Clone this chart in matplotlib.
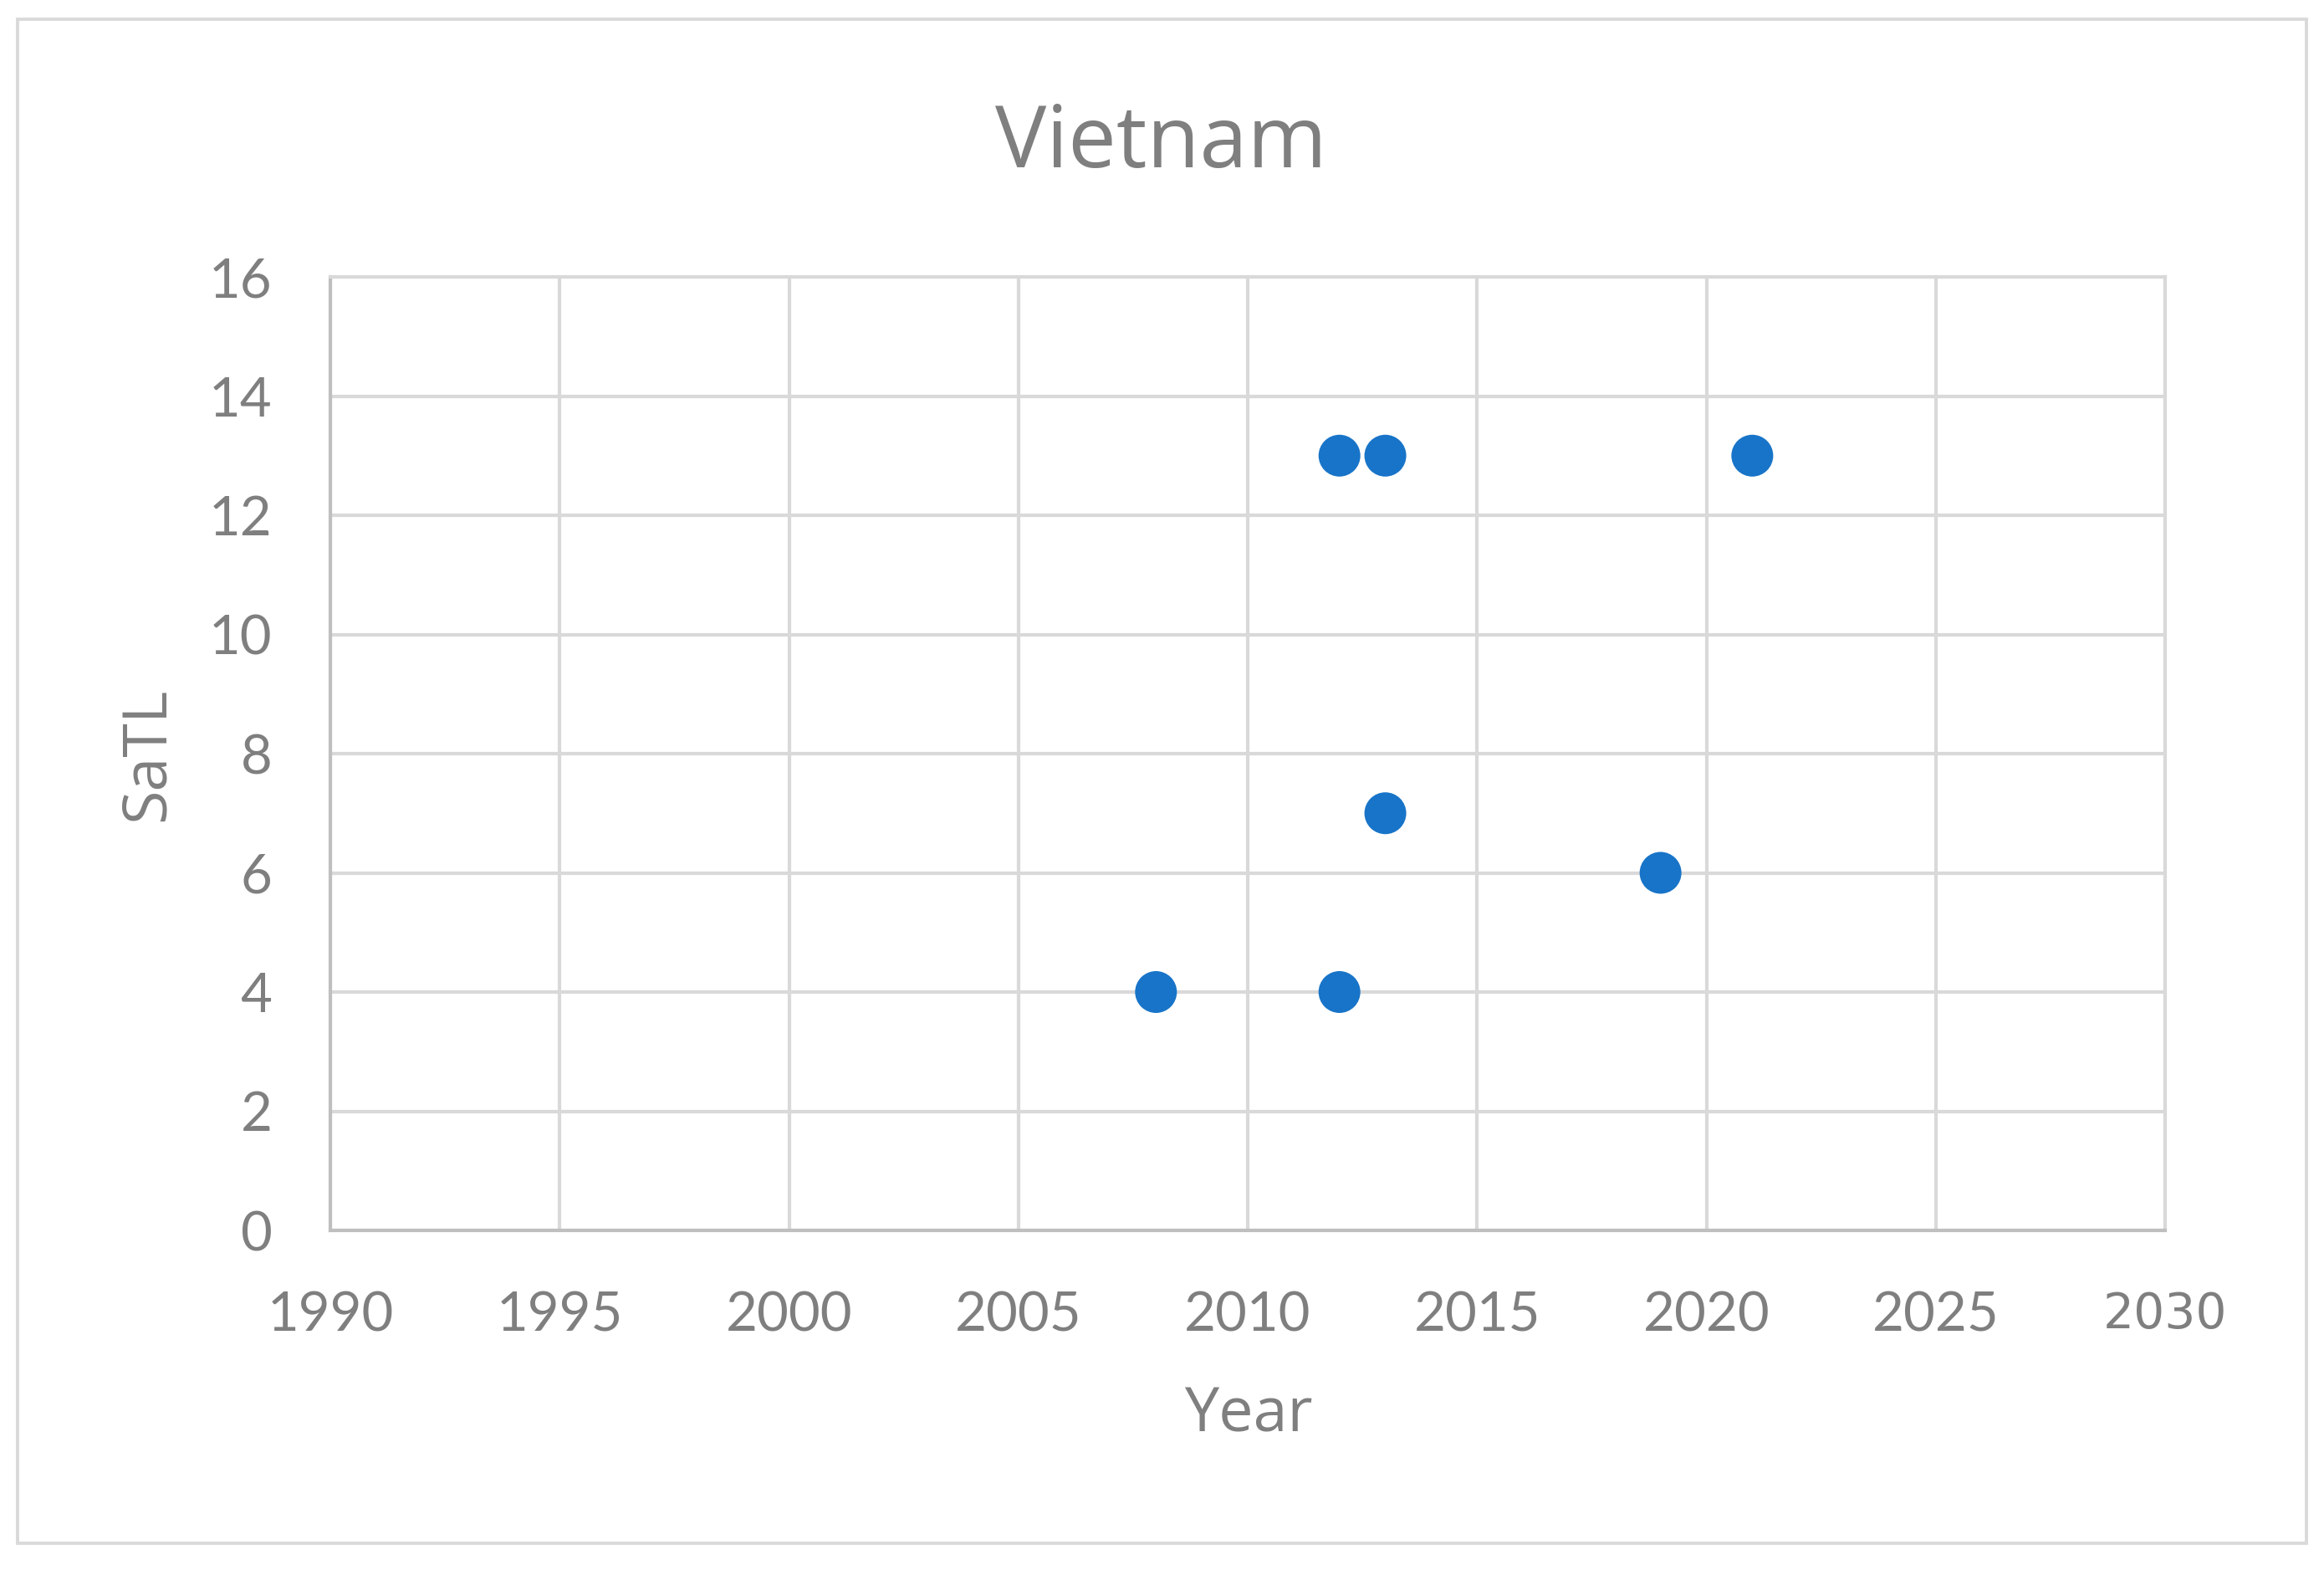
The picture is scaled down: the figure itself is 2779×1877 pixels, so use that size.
import matplotlib
matplotlib.use("Agg")
import matplotlib.pyplot as plt
from matplotlib.patches import Rectangle

# data
years = [2008, 2012, 2012, 2013, 2013, 2019, 2021]
satl = [4, 4, 13, 13, 7, 6, 13]

x_ticks = [1990, 1995, 2000, 2005, 2010, 2015, 2020, 2025, 2030]
y_ticks = [0, 2, 4, 6, 8, 10, 12, 14, 16]

TITLE = "Vietnam"
XLABEL = "Year"
YLABEL = "SaTL"

W, H = 2779, 1877
DPI = 100
TEXT = "#7f7f7f"
GRID = "#d9d9d9"
AXIS = "#bfbfbf"
BLUE = "#1874c8"


def px_box(left, top, right, bottom):
    # pixel box (from top-left) -> figure fraction [l, b, w, h]
    return [left / W, 1 - bottom / H, (right - left) / W, (bottom - top) / H]


fig = plt.figure(figsize=(W / DPI, H / DPI), dpi=DPI)
fig.patch.set_facecolor("white")

# outer chart border
l, b, w, h = px_box(21, 23, 2758, 1845)
fig.patches.append(Rectangle((l, b), w, h, transform=fig.transFigure,
                             fill=False, edgecolor=GRID, linewidth=2.8))

ax = fig.add_axes(px_box(395, 331, 2589, 1471))
ax.scatter(years, satl, s=36 ** 2, color=BLUE, edgecolors="none", zorder=3,
           clip_on=False)

ax.set_xlim(x_ticks[0], x_ticks[-1])
ax.set_ylim(y_ticks[0], y_ticks[-1])
ax.set_xticks(x_ticks)
ax.set_yticks(y_ticks)
ax.set_xticklabels([str(t) for t in x_ticks])
ax.set_yticklabels([str(t) for t in y_ticks])

ax.grid(True, color=GRID, linewidth=3.0, zorder=0)
ax.set_axisbelow(True)
ax.tick_params(length=0, colors=TEXT)
ax.tick_params(axis="x", pad=52)
ax.tick_params(axis="y", pad=50)

for side in ["top", "right"]:
    ax.spines[side].set_color(GRID)
    ax.spines[side].set_linewidth(3.0)
for side in ["left", "bottom"]:
    ax.spines[side].set_color(AXIS)
    ax.spines[side].set_linewidth(3.0)

fig.text(1388 / W, 1 - 200 / H, TITLE, ha="center", va="baseline",
         fontfamily="Open Sans", fontsize=74, color=TEXT)
fig.text(1493 / W, 1 - 1692 / H, XLABEL, ha="center", va="center",
         fontfamily="Open Sans", fontsize=53, color=TEXT)
fig.text(177 / W, 1 - 902 / H, YLABEL, ha="center", va="center",
         rotation=90, fontfamily="Open Sans", fontsize=53, color=TEXT)

# draw once so the tick objects are final, then style the labels
fig.canvas.draw()
for lab in ax.get_xticklabels() + ax.get_yticklabels():
    lab.set_fontfamily("Lato")
    lab.set_fontsize(47)
    lab.set_color(TEXT)
# the last year label is drawn in a different face in the original
last = ax.xaxis.get_major_ticks()[len(x_ticks) - 1].label1
last.set_fontfamily("DejaVu Sans")
last.set_fontsize(42)

fig.savefig("out.png", dpi=DPI, facecolor="white")
